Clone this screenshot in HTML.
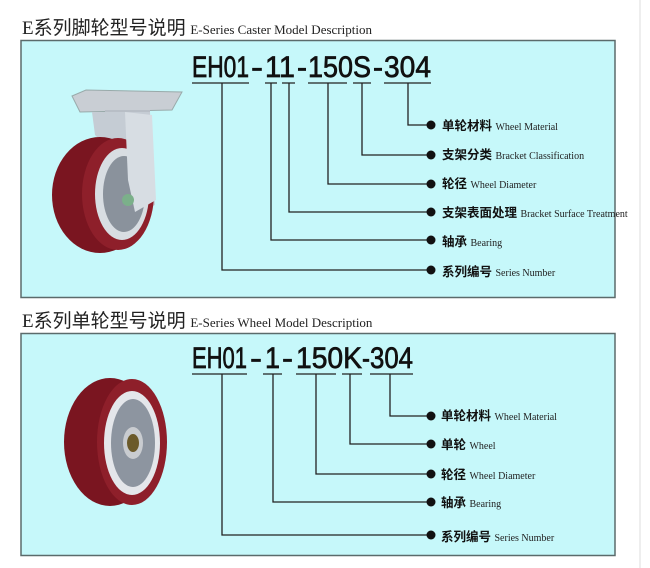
<!DOCTYPE html>
<html><head><meta charset="utf-8"><style>
html,body{margin:0;padding:0;background:#fff;}
svg{display:block;}
.code{font-family:"Liberation Sans",sans-serif;font-size:30px;fill:#111;stroke:#111;stroke-width:0.7;}
.cn{font-family:"Liberation Sans","Noto Sans CJK SC",sans-serif;font-size:12.5px;font-weight:bold;fill:#111;}
.en{font-family:"Liberation Serif",serif;font-size:10px;font-weight:normal;fill:#222;}
.ttl{font-family:"Liberation Serif","Noto Sans CJK SC",serif;font-size:19px;fill:#222;}
.ttle{font-family:"Liberation Serif",serif;font-size:13px;fill:#222;}
</style></head><body>
<svg width="650" height="568" viewBox="0 0 650 568" xmlns="http://www.w3.org/2000/svg">
<line x1="640" y1="0" x2="640" y2="568" stroke="#ddd" stroke-width="1"/>
<text x="22" y="34" class="ttl">E系列脚轮型号说明 <tspan class="ttle">E-Series Caster Model Description</tspan></text>
<text x="22" y="327" class="ttl">E系列单轮型号说明 <tspan class="ttle">E-Series Wheel Model Description</tspan></text>
<rect x="21" y="40.5" width="594" height="257" fill="#c6f8fa" stroke="#5b6b6b" stroke-width="1.5"/>
<rect x="21" y="333.5" width="594" height="222" fill="#c6f8fa" stroke="#5b6b6b" stroke-width="1.5"/>

<g>
<polygon points="72,96 86,90 182,92 172,110 80,112" fill="#c9ced4" stroke="#9aa" stroke-width="1"/>
<rect x="105" y="110" width="45" height="10" fill="#b8bec6"/>
<path d="M92,112 L150,112 L155,205 L130,215 L110,150 L95,135 Z" fill="#c5ccd4"/>
<ellipse cx="100" cy="195" rx="48" ry="58" fill="#7a1520"/>
<ellipse cx="118" cy="194" rx="36" ry="56" fill="#8e1f2a"/>
<ellipse cx="122" cy="194" rx="27" ry="46" fill="#d8dde2"/>
<ellipse cx="124" cy="194" rx="21" ry="38" fill="#8a929c"/>
<path d="M125,112 L152,115 L156,200 L135,212 L128,180 Z" fill="#d7dde3"/>
<circle cx="128" cy="200" r="6" fill="#7bb08a"/>
</g>

<g>
<ellipse cx="110" cy="442" rx="46" ry="64" fill="#7a1520"/>
<ellipse cx="132" cy="442" rx="35" ry="63" fill="#8e1f2a"/>
<ellipse cx="132" cy="443" rx="28" ry="52" fill="#e4e6ea"/>
<ellipse cx="133" cy="443" rx="22" ry="44" fill="#8d95a0"/>
<ellipse cx="133" cy="443" rx="10" ry="16" fill="#c9ccd0"/>
<ellipse cx="133" cy="443" rx="6" ry="9" fill="#6b5a2a"/>
</g>

<g class="code">
<text x="192" y="77" textLength="57" lengthAdjust="spacingAndGlyphs">EH01</text>
<text x="251" y="77" textLength="12" lengthAdjust="spacingAndGlyphs">-</text>
<text x="265" y="77" textLength="30" lengthAdjust="spacingAndGlyphs">11</text>
<text x="297" y="77" textLength="10" lengthAdjust="spacingAndGlyphs">-</text>
<text x="308" y="77" textLength="63" lengthAdjust="spacingAndGlyphs">150S</text>
<text x="373" y="77" textLength="10" lengthAdjust="spacingAndGlyphs">-</text>
<text x="384" y="77" textLength="47" lengthAdjust="spacingAndGlyphs">304</text>
</g>
<g stroke="#222" stroke-width="1.3" fill="none">
<path d="M192,83H249 M265,83H277 M282,83H295 M308,83H347 M353,83H371 M384,83H431"/>
<path d="M408,83V125H430 M362,83V155H430 M328,83V184H430 M289,83V212H430 M271,83V240H430 M222,83V270H430"/>
</g>
<g fill="#111">
<circle cx="431" cy="125" r="4.5"/><circle cx="431" cy="155" r="4.5"/><circle cx="431" cy="184" r="4.5"/>
<circle cx="431" cy="212" r="4.5"/><circle cx="431" cy="240" r="4.5"/><circle cx="431" cy="270" r="4.5"/>
</g>
<text x="442" y="130" class="cn">单轮材料 <tspan class="en">Wheel Material</tspan></text>
<text x="442" y="159" class="cn">支架分类 <tspan class="en">Bracket Classification</tspan></text>
<text x="442" y="188" class="cn">轮径 <tspan class="en">Wheel Diameter</tspan></text>
<text x="442" y="217" class="cn">支架表面处理 <tspan class="en">Bracket Surface Treatment</tspan></text>
<text x="442" y="246" class="cn">轴承 <tspan class="en">Bearing</tspan></text>
<text x="442" y="276" class="cn">系列编号 <tspan class="en">Series Number</tspan></text>

<g class="code">
<text x="192" y="368" textLength="55" lengthAdjust="spacingAndGlyphs">EH01</text>
<text x="250" y="368" textLength="12" lengthAdjust="spacingAndGlyphs">-</text>
<text x="265" y="368" textLength="15" lengthAdjust="spacingAndGlyphs">1</text>
<text x="282" y="368" textLength="11" lengthAdjust="spacingAndGlyphs">-</text>
<text x="296" y="368" textLength="66" lengthAdjust="spacingAndGlyphs">150K</text>
<text x="362" y="368" textLength="8" lengthAdjust="spacingAndGlyphs">-</text>
<text x="370" y="368" textLength="43" lengthAdjust="spacingAndGlyphs">304</text>
</g>
<g stroke="#222" stroke-width="1.3" fill="none">
<path d="M192,374H247 M263,374H282 M296,374H336 M342,374H362 M370,374H413"/>
<path d="M390,374V416H430 M350,374V444H430 M316,374V474H430 M273,374V502H430 M222,374V535H430"/>
</g>
<g fill="#111">
<circle cx="431" cy="416" r="4.5"/><circle cx="431" cy="444" r="4.5"/><circle cx="431" cy="474" r="4.5"/>
<circle cx="431" cy="502" r="4.5"/><circle cx="431" cy="535" r="4.5"/>
</g>
<text x="441" y="420" class="cn">单轮材料 <tspan class="en">Wheel Material</tspan></text>
<text x="441" y="449" class="cn">单轮 <tspan class="en">Wheel</tspan></text>
<text x="441" y="479" class="cn">轮径 <tspan class="en">Wheel Diameter</tspan></text>
<text x="441" y="507" class="cn">轴承 <tspan class="en">Bearing</tspan></text>
<text x="441" y="541" class="cn">系列编号 <tspan class="en">Series Number</tspan></text>
</svg>
</body></html>
